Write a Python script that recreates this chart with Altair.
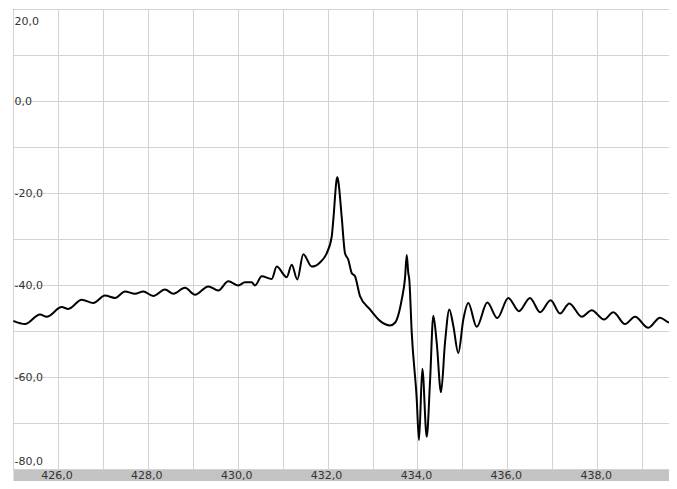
import altair as alt
import pandas as pd

# wavelength-like axis (x) and level (y)
x_vals = [
    425.007, 425.267, 425.601, 425.750, 426.084, 426.231, 426.529, 426.787,
    427.047, 427.270, 427.492, 427.715, 427.899, 428.122, 428.382, 428.567,
    428.827, 429.050, 429.346, 429.568, 429.791, 430.014, 430.162, 430.311,
    430.385, 430.534, 430.757, 430.868, 431.090, 431.202, 431.326, 431.460,
    431.647, 431.831, 431.980, 432.092, 432.127, 432.203, 432.216, 432.239,
    432.314, 432.388, 432.461, 432.537, 432.610, 432.721, 432.944, 433.166,
    433.389, 433.500, 433.649, 433.723, 433.761, 433.796, 433.818, 433.872,
    433.983, 434.034, 434.108, 434.206, 434.279, 434.353, 434.428, 434.524,
    434.613, 434.709, 434.798, 434.909, 435.020, 435.131, 435.318, 435.554,
    435.777, 436.021, 436.259, 436.504, 436.727, 436.965, 437.172, 437.379,
    437.655, 437.877, 438.151, 438.358, 438.618, 438.841, 439.137, 439.397,
    439.620, 439.775,
]
y_vals = [
    -47.8, -48.5, -46.4, -46.9, -44.8, -45.2, -43.2, -43.9,
    -42.3, -42.8, -41.4, -41.9, -41.4, -42.4, -41.0, -41.9,
    -40.6, -42.1, -40.3, -41.2, -39.2, -40.1, -39.4, -39.4,
    -40.1, -38.1, -38.7, -36.0, -38.3, -35.6, -38.8, -33.3,
    -36.0, -35.1, -33.1, -29.5, -25.9, -17.0, -16.6, -17.5,
    -25.2, -33.1, -34.5, -37.4, -38.1, -42.4, -45.3, -47.8,
    -48.8, -48.2, -43.2, -38.5, -33.5, -37.4, -38.8, -50.3,
    -64.7, -73.7, -58.2, -73.0, -61.1, -46.7, -52.5, -63.3,
    -52.5, -45.3, -48.9, -54.8, -47.5, -43.9, -49.1, -43.8,
    -47.2, -42.8, -45.7, -42.8, -45.9, -43.3, -46.2, -44.0,
    -46.9, -45.5, -47.5, -45.9, -48.5, -46.9, -49.3, -47.1,
    -48.2, -47.3,
]
x_ticks = list(range(425, 440))
x_label_ticks = [426, 428, 430, 432, 434, 436, 438]
x_label_text = ["426,0", "428,0", "430,0", "432,0", "434,0", "436,0", "438,0"]
y_ticks = list(range(-80, 30, 10))

df = pd.DataFrame({"x": x_vals, "y": y_vals})
df_lab = pd.DataFrame({"x": x_label_ticks, "t": x_label_text})

W, H = 656, 460
BAR = 12

fmt = "(datum.value < 0 ? '-' : '') + replace(format(abs(datum.value), '.1f'), '.', ',')"

x_scale = alt.Scale(domain=[425, 439.597], nice=False, zero=False)

line = (
    alt.Chart(df)
    .mark_line(color="#000000", strokeWidth=2, interpolate="monotone", clip=True)
    .encode(
        x=alt.X(
            "x:Q",
            scale=x_scale,
            axis=alt.Axis(
                values=x_ticks,
                title=None,
                grid=True,
                gridColor="#d3d3d3",
                gridWidth=1,
                ticks=False,
                labels=False,
                domain=True,
                domainColor="#c3c3c3",
                domainWidth=BAR - 0.5,
                offset=0.5 + (BAR - 0.5) / 2,
            ),
        ),
        y=alt.Y(
            "y:Q",
            scale=alt.Scale(domain=[-80, 20], nice=False, zero=False),
            axis=alt.Axis(
                values=y_ticks,
                title=None,
                grid=True,
                gridColor="#d3d3d3",
                gridWidth=1,
                ticks=False,
                domain=False,
                labelExpr="datum.value % 20 == 0 ? " + fmt + " : ''",
                labelAlign="left",
                labelBaseline="middle",
                labelPadding=-1,
                labelOffset={
                    "condition": [
                        {"test": "datum.value == 20", "value": 12},
                        {"test": "datum.value == -80", "value": -8},
                    ],
                    "value": 0,
                },
                labelFlush=False,
                labelOverlap=False,
                labelFont="DejaVu Sans",
                labelFontSize=11,
                labelColor="#333333",
            ),
        ),
    )
)

labels = (
    alt.Chart(df_lab)
    .mark_text(font="DejaVu Sans", fontSize=11, color="#333333", baseline="middle", align="center", dx=-1)
    .encode(
        x=alt.X("x:Q", scale=x_scale),
        y=alt.value(H + 6.5),
        text="t:N",
    )
)

chart = (
    alt.layer(line, labels)
    .properties(
        width=W,
        height=H,
        autosize=alt.AutoSizeParams(type="none"),
        padding={"left": 5, "top": 1, "right": 0, "bottom": BAR},
        background="#ffffff",
    )
    .configure_view(stroke="#3a3a3a", strokeWidth=1)
)

chart.save("out.html", embed_options={"renderer": "svg", "actions": False})
